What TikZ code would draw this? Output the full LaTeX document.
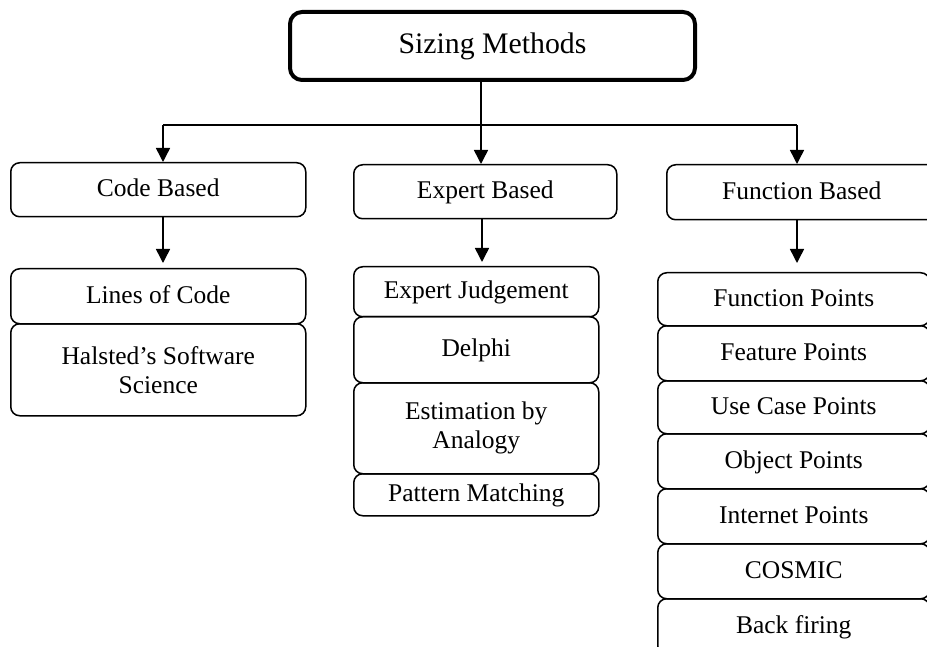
\documentclass[tikz,border=0pt]{standalone}
\usepackage{fontspec}
\setmainfont{Liberation Serif}
\usetikzlibrary{arrows.meta}
\begin{document}
\begin{tikzpicture}[x=1pt,y=-1pt,
  box/.style={draw, line width=1.5pt, rounded corners=9pt, anchor=north west,
    inner sep=0pt, align=center, font=\fontsize{25.5}{29}\selectfont},
  oneline/.style={box, text height=20pt, text depth=6pt},
  titlebox/.style={box, line width=4pt, rounded corners=12pt,
    text height=23pt, text depth=7pt, font=\fontsize{29.8}{34}\selectfont},
  link/.style={line width=1.5pt},
  arr/.style={link, -{Triangle[width=14pt,length=14pt]}}
]
\useasboundingbox (0,0) rectangle (927,647);
\clip (0,0) rectangle (927,647);

% root
\node[titlebox, minimum width=405pt, minimum height=68pt] (root) at (288,10) {Sizing Methods};

% categories
\node[oneline, minimum width=295pt, minimum height=54pt] (code) at (10,162) {Code Based};
\node[oneline, minimum width=263pt, minimum height=54pt] (expert) at (353,164) {Expert Based};
\node[oneline, minimum width=270pt, minimum height=55pt] (func) at (666,164) {Function Based};

% code based methods
\node[oneline, minimum width=295pt, minimum height=55pt] (loc) at (10,268) {Lines of Code};
\node[box, minimum width=295pt, minimum height=92pt] (hal) at (10,323) {Halsted’s Software\\Science};

% expert based methods
\node[oneline, minimum width=245pt, minimum height=50pt] (ej) at (353,266) {Expert Judgement};
\node[oneline, minimum width=245pt, minimum height=66pt] (del) at (353,316) {Delphi};
\node[box, minimum width=245pt, minimum height=91pt] (ana) at (353,382) {Estimation by\\Analogy};
\node[oneline, minimum width=245pt, minimum height=42pt] (pat) at (353,473) {Pattern Matching};

% function based methods
\node[oneline, minimum width=272pt, minimum height=53pt] (fp) at (657,272) {Function Points};
\node[oneline, minimum width=272pt, minimum height=55pt] (fe) at (657,325) {Feature Points};
\node[oneline, minimum width=272pt, minimum height=53pt] (uc) at (657,380) {Use Case Points};
\node[oneline, minimum width=272pt, minimum height=55pt] (op) at (657,433) {Object Points};
\node[oneline, minimum width=272pt, minimum height=55pt] (ip) at (657,488) {Internet Points};
\node[oneline, minimum width=272pt, minimum height=55pt] (cos) at (657,543) {COSMIC};
\node[oneline, minimum width=272pt, minimum height=56pt] (bf) at (657,598) {Back firing};

% bus from the root to the categories
\coordinate (bl) at (163,125);
\coordinate (bm) at (481,125);
\coordinate (br) at (797,125);
\draw[link] (bm |- root.south) -- (bm);
\draw[link] (bl) -- (br);
\draw[arr] (bl) -- (bl |- code.north);
\draw[arr] (bm) -- (bm |- expert.north);
\draw[arr] (br) -- (br |- func.north);

% categories to their methods
\draw[arr, shorten >=5pt] (bl |- code.south) -- (bl |- loc.north);
\draw[arr, shorten >=4pt] (482,0 |- expert.south) -- (482,0 |- ej.north);
\draw[arr, shorten >=9pt] (br |- func.south) -- (br |- fp.north);
\end{tikzpicture}
\end{document}
